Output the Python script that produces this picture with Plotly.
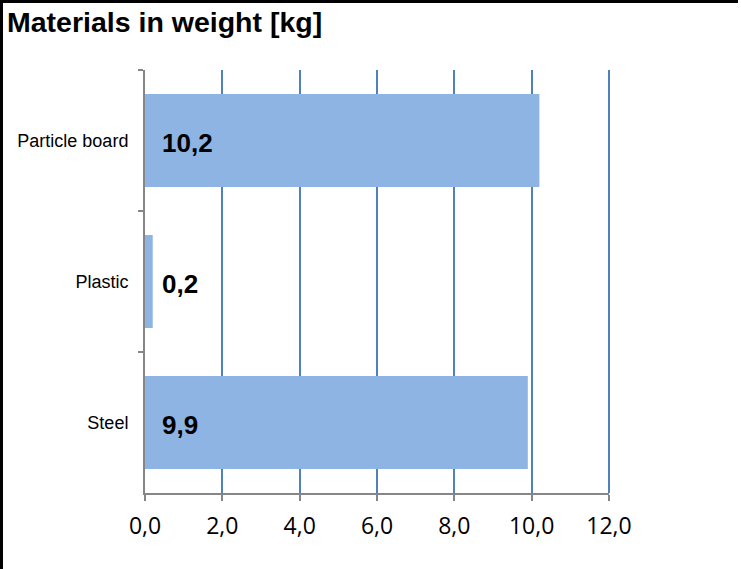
import plotly.graph_objects as go

categories = ["Particle board", "Plastic", "Steel"]
weights = [10.2, 0.2, 9.9]
x_ticks = [0, 2, 4, 6, 8, 10, 12]
title_text = "Materials in weight [kg]"

W, H = 741, 569
L, R, T, B = 145, 132, 70, 76
pw, ph = W - L - R, H - T - B
x_max = x_ticks[-1]

def px(x):
    return (x - L) / pw

def py(y):
    return (H - B - y) / ph

fig = go.Figure()
fig.add_trace(go.Bar(
    y=categories, x=weights, orientation="h",
    marker=dict(color="#8EB4E3", line=dict(width=0)),
    hoverinfo="skip",
))

annotations = []
for c, v in zip(categories, weights):
    annotations.append(dict(
        x=0, y=c, xref="x", yref="y", xanchor="left", yanchor="middle",
        xshift=15, yshift=-2, showarrow=False,
        text=f"<b>{v:.1f}</b>".replace(".", ","),
        font=dict(family="Liberation Sans, Arial", size=26, color="black"),
    ))
annotations.append(dict(
    x=px(5), y=py(22), xref="paper", yref="paper", xanchor="left", yanchor="middle",
    showarrow=False, text=f"<b>{title_text}</b>",
    font=dict(family="Liberation Sans, Arial", size=28.5, color="black"),
))

shapes = [
    dict(type="line", xref="paper", yref="paper", x0=px(1.5), x1=px(1.5), y0=py(0), y1=py(H),
         line=dict(color="black", width=3)),
    dict(type="line", xref="paper", yref="paper", x0=px(0), x1=px(738), y0=py(1.5), y1=py(1.5),
         line=dict(color="black", width=3)),
    # last gridline at the range edge (paper-ref so it is not clipped)
    dict(type="line", xref="paper", yref="paper", x0=x_ticks[-1] / x_max, x1=x_ticks[-1] / x_max,
         y0=0, y1=1, line=dict(color="#4F81BD", width=2), layer="below"),
]

fig.update_layout(
    width=W, height=H,
    margin=dict(l=L, r=R, t=T, b=B, pad=0),
    paper_bgcolor="white", plot_bgcolor="white",
    separators=",.",
    showlegend=False,
    bargap=0.34,
    annotations=annotations,
    shapes=shapes,
    xaxis=dict(
        range=[0, x_max], tickvals=x_ticks, tickformat=".1f",
        showgrid=True, gridcolor="#4F81BD", gridwidth=2,
        zeroline=False,
        showline=True, linecolor="#868686", linewidth=2,
        ticks="outside", ticklen=6, tickcolor="#868686", tickwidth=2,
        tickfont=dict(family="Open Sans", size=23, color="black"),
        ticklabelstandoff=5,
        fixedrange=True,
    ),
    yaxis=dict(
        autorange="reversed", type="category",
        showgrid=False, zeroline=False,
        showline=True, linecolor="#868686", linewidth=2,
        ticks="outside", ticklen=5, tickcolor="#868686", tickwidth=2,
        tickson="boundaries",
        tickfont=dict(family="Liberation Sans, Arial", size=18, color="black"),
        ticklabelstandoff=11,
        fixedrange=True,
    ),
)

fig.write_html(
    "out.html",
    config={"displayModeBar": False},
    post_script="document.body.style.margin='0';document.body.style.overflow='hidden';",
)
